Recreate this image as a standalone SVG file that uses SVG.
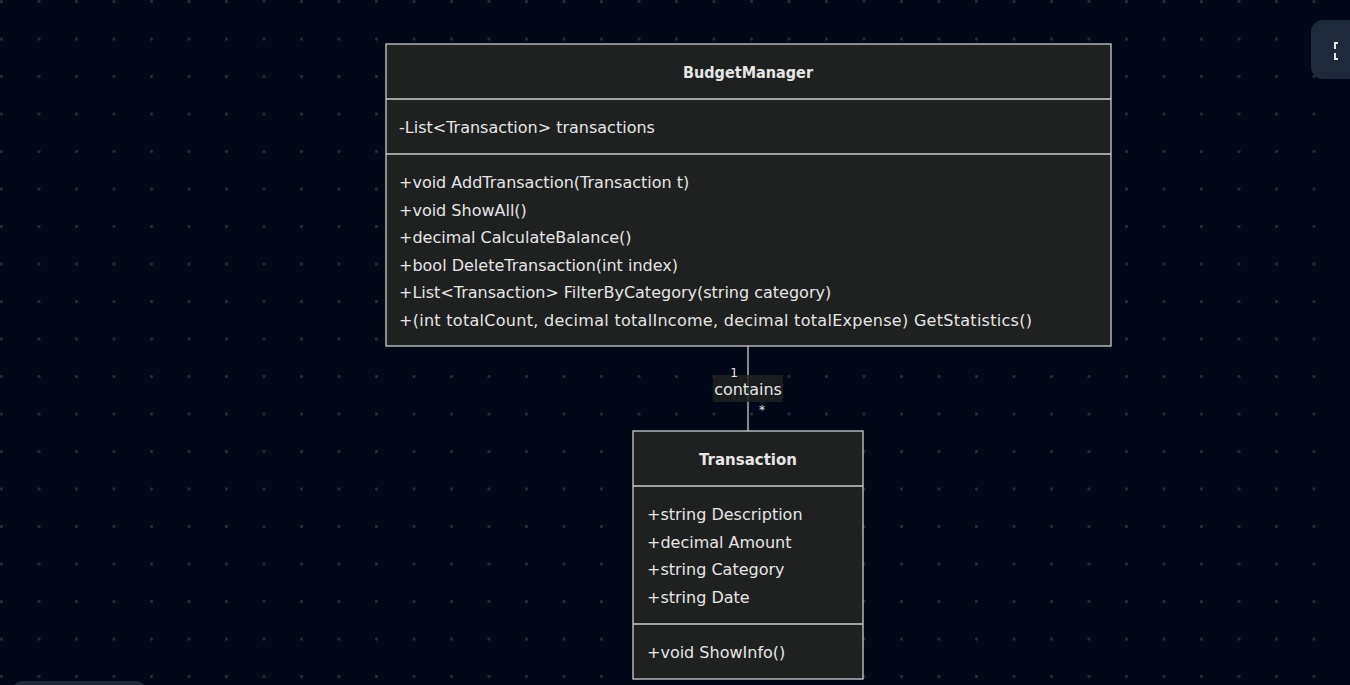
<svg xmlns="http://www.w3.org/2000/svg" width="1350" height="685" viewBox="0 0 1350 685">
<defs>
<pattern id="dots" x="0" y="0" width="37.5" height="37.5" patternUnits="userSpaceOnUse">
<circle cx="1.5" cy="1.5" r="1.6" fill="#262b37"/>
</pattern>
<style>
.box{fill:#1f2020;stroke:#cccccc;stroke-width:1.3}
.div{stroke:#cccccc;stroke-width:1.3}
.t{font-family:"DejaVu Sans",Verdana,sans-serif;font-size:16px;fill:#e6e6e6}
.h{font-weight:bold;text-anchor:middle}
.s{font-family:"DejaVu Sans",Verdana,sans-serif;font-size:12px;fill:#e6e6e6}
.edge{stroke:#cccccc;stroke-width:1.3;fill:none}
</style>
</defs>
<rect width="1350" height="685" fill="#020817"/>
<rect x="0" y="0" width="1350" height="685" fill="url(#dots)"/>
<g id="BudgetManager">
<rect class="box" x="386" y="44" width="725" height="302"/>
<line class="div" x1="386" y1="99" x2="1111" y2="99"/>
<line class="div" x1="386" y1="154" x2="1111" y2="154"/>
<text class="t h" x="748" y="78" textLength="130" lengthAdjust="spacingAndGlyphs">BudgetManager</text>
<text class="t" x="399" y="133">-List&lt;Transaction&gt; transactions</text>
<text class="t" x="399" y="188">+void AddTransaction(Transaction t)</text>
<text class="t" x="399" y="216">+void ShowAll()</text>
<text class="t" x="399" y="243">+decimal CalculateBalance()</text>
<text class="t" x="399" y="271">+bool DeleteTransaction(int index)</text>
<text class="t" x="399" y="298">+List&lt;Transaction&gt; FilterByCategory(string category)</text>
<text class="t" x="399" y="326" textLength="633" lengthAdjust="spacing">+(int totalCount, decimal totalIncome, decimal totalExpense) GetStatistics()</text>
</g>
<g id="Transaction">
<rect class="box" x="633" y="431" width="230" height="248"/>
<line class="div" x1="633" y1="486" x2="863" y2="486"/>
<line class="div" x1="633" y1="624" x2="863" y2="624"/>
<text class="t h" x="748" y="465" textLength="98" lengthAdjust="spacingAndGlyphs">Transaction</text>
<text class="t" x="647" y="520">+string Description</text>
<text class="t" x="647" y="548">+decimal Amount</text>
<text class="t" x="647" y="575">+string Category</text>
<text class="t" x="647" y="603">+string Date</text>
<text class="t" x="647" y="658">+void ShowInfo()</text>
</g>
<g id="connectors">
<line class="edge" x1="748" y1="346" x2="748" y2="431"/>
<rect x="713" y="375" width="70" height="27" fill="#1f2020" opacity="0.85"/>
<text class="t" x="748" y="395" text-anchor="middle">contains</text>
<text class="s" x="734" y="377" text-anchor="middle">1</text>
<text class="s" x="762" y="414" text-anchor="middle">*</text>
</g>
<g id="controls">
<rect x="1311" y="20" width="60" height="59" rx="12" fill="#1e293b"/>
<path d="M1338 43h-3v6M1335 53v6h3" stroke="#e6e6e6" stroke-width="2" fill="none"/>
<rect x="12" y="681" width="134" height="20" rx="10" fill="#1e293b"/>
</g>
</svg>
